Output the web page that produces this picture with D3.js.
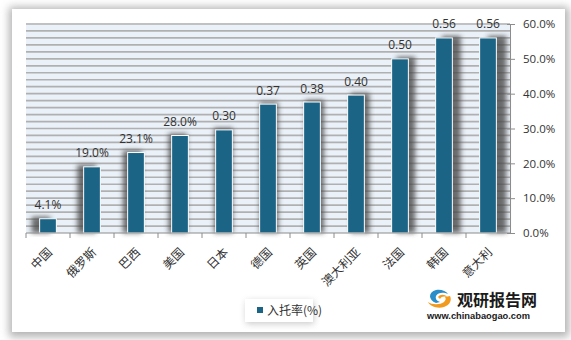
<!DOCTYPE html>
<html><head><meta charset="utf-8">
<script src="https://cdn.jsdelivr.net/npm/d3@7/dist/d3.min.js"></script>
<style>body{margin:0;background:#fff;}svg{display:block;}</style>
</head><body>
<script>
const categories = ["中国","俄罗斯","巴西","美国","日本","德国","英国","澳大利亚","法国","韩国","意大利"];
const values = [4.1,19.0,23.1,28.0,29.6,37.0,37.6,39.6,50.0,56.0,56.0];
const valueLabels = ["4.1%","19.0%","23.1%","28.0%","0.30","0.37","0.38","0.40","0.50","0.56","0.56"];
const yTicks = [0,10,20,30,40,50,60];
const gridStep = 2;
const seriesName = "入托率(%)";

const W=571,H=340;
const svg=d3.select("body").append("svg").attr("width",W).attr("height",H);
const defs=svg.append("defs");
defs.append("filter").attr("id","pshadow").attr("x","-10%").attr("y","-10%").attr("width","120%").attr("height","120%")
  .append("feGaussianBlur").attr("stdDeviation",4);
defs.append("filter").attr("id","bshadow").attr("x","-100%").attr("y","-20%").attr("width","300%").attr("height","140%")
  .append("feGaussianBlur").attr("stdDeviation",2.5);
defs.append("filter").attr("id","lshadow").attr("x","-20%").attr("y","-50%").attr("width","140%").attr("height","200%")
  .append("feGaussianBlur").attr("stdDeviation",3);

// panel
svg.append("rect").attr("x",9).attr("y",7).attr("width",560).attr("height",330).attr("fill","#999").attr("opacity",0.75).attr("filter","url(#pshadow)");
svg.append("rect").attr("x",12).attr("y",9).attr("width",553).attr("height",323).attr("fill","#fff");

const L=26,R=510,T=24,B=233;
const x=d3.scaleBand().domain(categories).range([L,R]).paddingInner(0.62).paddingOuter(0.31);
const y=d3.scaleLinear().domain([0,60]).range([B,T]);

// plot background
svg.append("rect").attr("x",L).attr("y",T-1).attr("width",R-L).attr("height",B-T+1).attr("fill","#eaf1f8");
const gridVals=d3.range(gridStep,60+0.001,gridStep);
svg.append("g").selectAll("line").data(gridVals).join("line")
  .attr("x1",L).attr("x2",R).attr("y1",d=>y(d)).attr("y2",d=>y(d))
  .attr("stroke","#b0b0b0").attr("stroke-width",1.7);

// bar shadows
const n=categories.length;
svg.append("g").selectAll("rect").data(categories).join("rect")
  .attr("x",(d,i)=>x(d)+((i-(n-1)/2)/((n-1)/2))*8)
  .attr("y",(d,i)=>y(values[i])-2)
  .attr("width",x.bandwidth()+2)
  .attr("height",(d,i)=>B-y(values[i])+2)
  .attr("fill","#4a4a4a").attr("opacity",0.8).attr("filter","url(#bshadow)");

// bars
svg.append("g").selectAll("rect").data(categories).join("rect")
  .attr("x",d=>x(d)).attr("y",(d,i)=>y(values[i]))
  .attr("width",x.bandwidth()).attr("height",(d,i)=>B-y(values[i]))
  .attr("fill","#1b6485").attr("stroke","#fff").attr("stroke-width",1);

// value labels
svg.append("g").selectAll("text").data(categories).join("text")
  .attr("x",d=>x(d)+x.bandwidth()/2).attr("y",(d,i)=>y(values[i])-9.5)
  .attr("text-anchor","middle").attr("font-family","Open Sans, sans-serif").attr("font-size",12).attr("fill","#333")
  .text((d,i)=>valueLabels[i]);

// y axis right
const ya=svg.append("g").attr("transform",`translate(${R},0)`)
  .call(d3.axisRight(y).tickValues(yTicks).tickFormat(d=>d.toFixed(1)+"%").tickSize(5).tickPadding(8));
ya.select(".domain").attr("stroke","#8c8c8c");
ya.selectAll(".tick line").attr("stroke","#8c8c8c").attr("x1",-3);
ya.selectAll("text").attr("font-family","Open Sans, sans-serif").attr("font-size",11.5).attr("fill","#333");

// x axis
svg.append("line").attr("x1",L).attr("x2",R).attr("y1",B).attr("y2",B).attr("stroke","#8c8c8c");
const step=x.step();
svg.append("g").selectAll("line").data(d3.range(n)).join("line")
  .attr("x1",i=>L+i*step).attr("x2",i=>L+i*step).attr("y1",B).attr("y2",B+5).attr("stroke","#8c8c8c");
svg.append("g").selectAll("text").data(categories).join("text")
  .attr("transform",d=>`translate(${x(d)+x.bandwidth()/2+2},${B+17}) rotate(-45)`)
  .attr("text-anchor","end").attr("dy","0.35em")
  .attr("font-family","Noto Sans CJK SC, sans-serif").attr("font-size",12).attr("fill","#333")
  .text(d=>d);

// legend
svg.append("rect").attr("x",246).attr("y",301).attr("width",68).attr("height",23).attr("fill","#aaa").attr("opacity",0.6).attr("filter","url(#lshadow)");
svg.append("rect").attr("x",245).attr("y",299).attr("width",68).attr("height",23).attr("fill","#fff");
svg.append("rect").attr("x",257).attr("y",307).attr("width",6).attr("height",6).attr("fill","#1b6485");
svg.append("text").attr("x",267).attr("y",315).attr("font-family","Noto Sans CJK SC, sans-serif").attr("font-size",12).attr("fill","#333").text(seriesName);

// logo
const lg=svg.append("g");
lg.append("path").attr("d","M436,303 C428,300 428,292 436,290 C441,289 446,291 448,294 C444,292 438,292 436,296 C435,299 437,301 440,302 Z").attr("fill","#2a8dc9");
lg.append("path").attr("d","M450,296 C452,300 450,305 444,307 C437,309 430,306 428,302 C432,305 440,305 444,302 C446,300 446,298 445,297 Z").attr("fill","#f29a1e");
lg.append("path").attr("d","M438,297 C440,294 445,294 447,297 C445,296 441,296 440,299 Z").attr("fill","#f29a1e");
lg.append("text").attr("x",457).attr("y",306).attr("font-family","Noto Sans CJK SC, sans-serif").attr("font-weight","bold").attr("font-size",16).attr("fill","#1a1a1a").text("观研报告网");
lg.append("text").attr("x",427).attr("y",319).attr("font-family","Liberation Sans, Arial, sans-serif").attr("font-weight","bold").attr("font-size",9.3).attr("fill","#1a1a1a").text("www.chinabaogao.com");
</script>
</body></html>
